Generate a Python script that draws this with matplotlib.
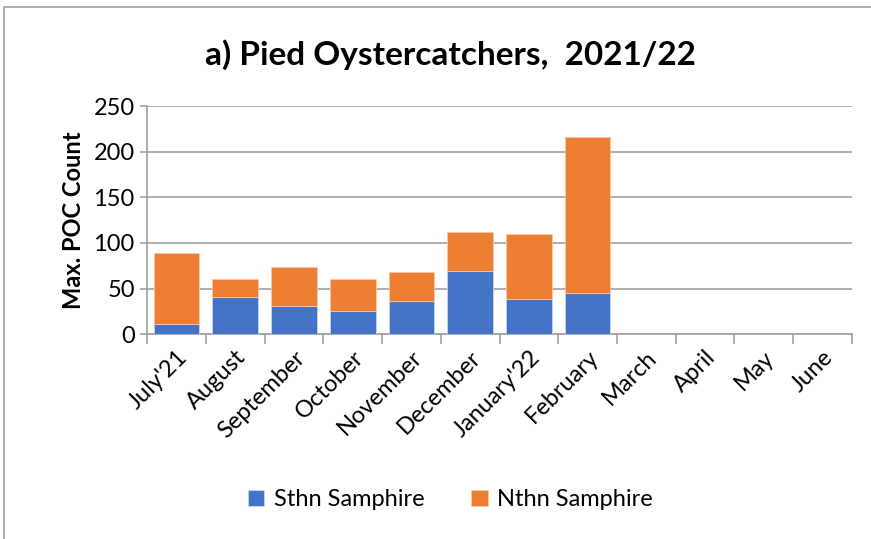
import matplotlib
matplotlib.use('Agg')
import matplotlib.pyplot as plt
import numpy as np

# Monthly max counts, July 2021 - June 2022
months = ["July'21", 'August', 'September', 'October', 'November', 'December',
          "January'22", 'February', 'March', 'April', 'May', 'June']
sthn = [11, 41, 31, 25, 36, 69, 39, 45, 0, 0, 0, 0]
nthn = [78, 20, 43, 36, 32, 43, 71, 171, 0, 0, 0, 0]

plt.rcParams['font.family'] = ['Lato', 'DejaVu Sans']

fig = plt.figure(figsize=(8.71, 5.39), dpi=100)
ax = fig.add_axes([0.169, 0.380, 0.809, 0.423])

x = np.arange(len(months))
ax.bar(x, sthn, width=0.78, color='#4472C4', edgecolor='#c9d6ee', linewidth=0.6,
       label='Sthn Samphire', zorder=3)
ax.bar(x, nthn, width=0.78, bottom=sthn, color='#ED7D31', edgecolor='#f7c9a9',
       linewidth=0.6, label='Nthn Samphire', zorder=3)

ax.set_xlim(-0.5, len(months) - 0.5)
ax.set_ylim(0, 250)
ax.set_yticks(range(0, 251, 50))
ax.yaxis.grid(True, color='#a0a0a0', linewidth=1.2, zorder=0)

# category labels at centres, tick marks between categories
ax.set_xticks(x)
ax.set_xticklabels(months, rotation=45, ha='right', rotation_mode='anchor', fontsize=17)
ax.set_xticks(np.arange(-0.5, len(months), 1), minor=True)
ax.tick_params(axis='x', which='major', length=0, pad=9)
ax.tick_params(axis='x', which='minor', length=7, width=1.2, color='#a0a0a0')
ax.tick_params(axis='y', length=5, width=1.2, color='#a0a0a0', labelsize=17, pad=4)

for side in ['top', 'right']:
    ax.spines[side].set_visible(False)
for side in ['left', 'bottom']:
    ax.spines[side].set_color('#a0a0a0')
    ax.spines[side].set_linewidth(1.2)

ax.set_ylabel('Max. POC Count', fontsize=17, fontweight='bold', labelpad=6)
fig.text(0.517, 0.898, 'a) Pied Oystercatchers,  2021/22', ha='center', va='center',
         fontsize=24, fontweight='bold')

fig.legend(loc='center', bbox_to_anchor=(0.517, 0.073), ncol=2, frameon=False,
           fontsize=17, handlelength=0.7, handleheight=0.7, columnspacing=2.0,
           handletextpad=0.4)

# outer border of the chart area
fig.patches.append(plt.Rectangle((0.005, -0.01), 1.0, 0.997, transform=fig.transFigure,
                                 fill=False, edgecolor='#a0a0a0', linewidth=1.2))

fig.savefig('out.png', dpi=100)
plt.close(fig)
